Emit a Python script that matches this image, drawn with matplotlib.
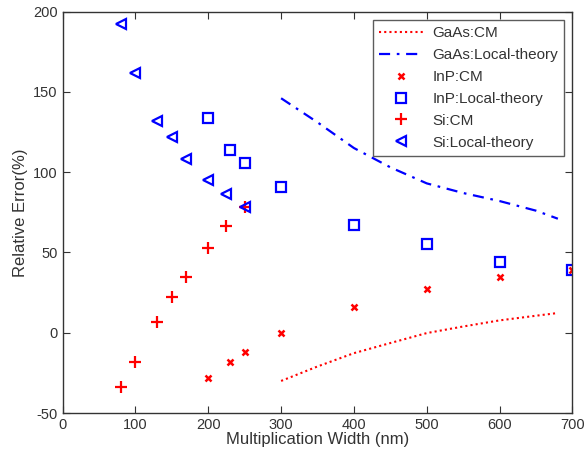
"""Relative error vs multiplication width, CM vs local theory."""

import matplotlib
matplotlib.use("Agg")
import matplotlib.pyplot as plt

plt.rcParams['font.family'] = ['Liberation Sans', 'DejaVu Sans']
plt.rcParams['axes.unicode_minus'] = False

# GaAs curves
gaas_x = [300, 350, 400, 450, 500, 550, 600, 650, 680]
gaas_cm = [-30, -21, -12.7, -6.4, -0.2, 3.9, 7.7, 10.6, 12.3]
gaas_local = [146, 131, 115, 103, 93, 87, 82, 76, 71]

# InP points
inp_x = [200, 230, 250, 300, 400, 500, 600, 700]
inp_cm = [-28, -18, -12, 0, 16, 27, 35, 39]
inp_local = [134, 114, 106, 91, 67, 55, 44, 39]

# Si points
si_x = [80, 100, 130, 150, 170, 200, 225, 250]
si_cm = [-34, -18.5, 6.5, 22, 35, 53, 66.5, 78.5]
si_local = [192, 162, 132, 122, 108, 95, 86.5, 78]

fig = plt.figure(figsize=(5.84, 4.61), dpi=100)
ax = fig.add_axes([0.1072, 0.104, 0.873, 0.871])

ax.plot(gaas_x, gaas_cm, color='red', linestyle=(0, (1, 1.5)), linewidth=1.5,
        label='GaAs:CM')
ax.plot(gaas_x, gaas_local, color='blue', linestyle=(0, (5, 3, 1.2, 3)),
        linewidth=1.6, label='GaAs:Local-theory')
ax.plot(inp_x, inp_cm, 'x', color='red', markersize=4.5, markeredgewidth=1.8,
        label='InP:CM')
ax.plot(inp_x, inp_local, 's', color='blue', markerfacecolor='none',
        markersize=7.5, markeredgewidth=1.6, label='InP:Local-theory')
ax.plot(si_x, si_cm, '+', color='red', markersize=8, markeredgewidth=1.6,
        label='Si:CM')
ax.plot(si_x, si_local, '<', color='blue', markerfacecolor='none',
        markersize=7.5, markeredgewidth=1.6, label='Si:Local-theory')

ax.set_xlim(0, 700)
ax.set_ylim(-50, 200)
ax.set_xticks(range(0, 701, 100))
ax.set_yticks(range(-50, 201, 50))
ax.tick_params(direction='in', top=True, right=True, length=5, width=0.8,
               labelsize=10.5, labelcolor='#333333', color='#333333')
for s in ax.spines.values():
    s.set_color('#333333')
    s.set_linewidth(1.0)

ax.set_xlabel('Multiplication Width (nm)', fontsize=12, color='#333333',
              labelpad=0)
ax.set_ylabel('Relative Error(%)', fontsize=12, color='#333333', labelpad=4)

leg = ax.legend(loc='upper right', fontsize=11, frameon=True, fancybox=False,
                edgecolor='#333333', handlelength=2.9, borderaxespad=0.55,
                labelspacing=0.52, handletextpad=0.6)
leg.get_frame().set_linewidth(1.0)
for t in leg.get_texts():
    t.set_color('#333333')

fig.savefig('out.png', dpi=100)
